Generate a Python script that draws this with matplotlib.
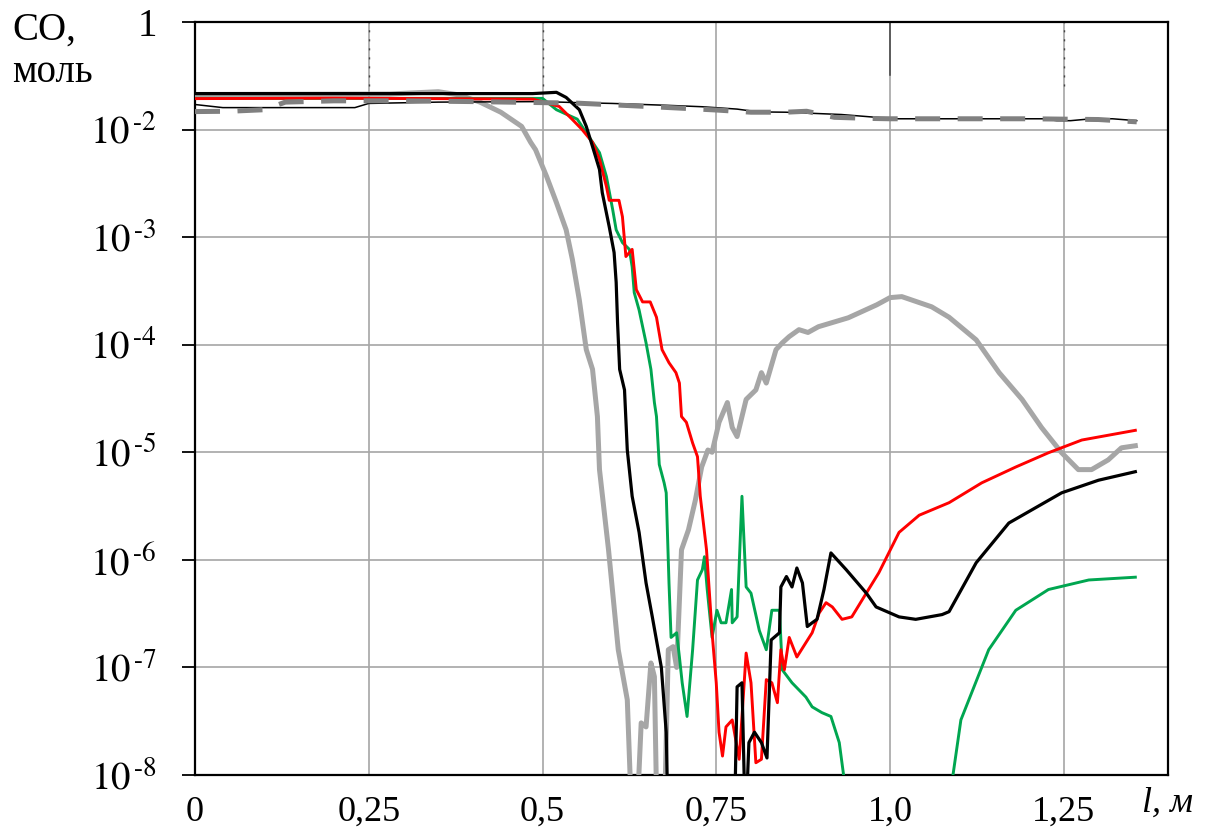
import matplotlib
matplotlib.use("Agg")
import matplotlib.pyplot as plt

plt.rcParams['font.family'] = ['Liberation Serif', 'DejaVu Serif']
plt.rcParams['mathtext.fontset'] = 'stix'

LOW = 3e-9  # below the visible axis

# thin black line (reference, nearly constant)
x_thin = [0.0, 0.04, 0.1, 0.2, 0.23, 0.25, 0.35, 0.5, 0.55, 0.6, 0.68, 0.73, 0.78, 0.81, 0.85,
          0.93, 0.98, 1.0, 1.1, 1.22, 1.24, 1.26, 1.29, 1.32, 1.355]
y_thin = [0.0171, 0.016, 0.016, 0.016, 0.016, 0.0175, 0.018, 0.0182, 0.0178, 0.0175, 0.0168,
          0.0163, 0.0155, 0.0146, 0.0145, 0.0138, 0.013, 0.0126, 0.0126, 0.0126, 0.0121, 0.0121,
          0.0126, 0.0126, 0.0121]

# dashed gray line
x_dash = [0.0, 0.05, 0.1, 0.13, 0.2, 0.3, 0.4, 0.5, 0.55, 0.6, 0.65, 0.7, 0.75, 0.8, 0.85,
          0.88, 0.92, 0.97, 1.0, 1.1, 1.2, 1.3, 1.355]
y_dash = [0.0147, 0.0148, 0.0153, 0.018, 0.0185, 0.0185, 0.0182, 0.0178, 0.0176, 0.017, 0.0164,
          0.0158, 0.0152, 0.0145, 0.0145, 0.0148, 0.013, 0.0127, 0.0126, 0.0126, 0.0126, 0.0124,
          0.0118]

# light gray thick curve
x_lg = [0.0, 0.28, 0.35, 0.38, 0.41, 0.44, 0.47, 0.483, 0.49, 0.506, 0.52, 0.534, 0.543, 0.553,
        0.563, 0.572, 0.579, 0.582, 0.595, 0.609, 0.622, 0.629, 0.635, 0.642, 0.649, 0.656,
        0.661, 0.665, 0.675, 0.681, 0.688, 0.693, 0.700, 0.710, 0.720, 0.729, 0.738, 0.744,
        0.754, 0.766, 0.773, 0.780, 0.793, 0.807, 0.815, 0.822, 0.836, 0.845, 0.855, 0.869,
        0.882, 0.897, 0.940, 0.981, 1.000, 1.017, 1.060, 1.085, 1.124, 1.157, 1.190, 1.218,
        1.247, 1.271, 1.290, 1.314, 1.333, 1.353]
y_lg = [0.0212, 0.0214, 0.0225, 0.021, 0.018, 0.0145, 0.0107, 7.6e-3, 6.5e-3, 3.65e-3, 2.1e-3,
        1.17e-3, 6.2e-4, 2.6e-4, 9.0e-5, 5.9e-5, 2.15e-5, 6.9e-6, 1.24e-6, 1.46e-7, 5.0e-8,
        LOW, LOW, 3.05e-8, 2.8e-8, 1.1e-7, 8.2e-8, LOW, LOW, 1.46e-7, 1.56e-7, 1.0e-7, 1.24e-6,
        1.9e-6, 3.6e-6, 7.3e-6, 1.05e-5, 1.0e-5, 1.9e-5, 2.9e-5, 1.7e-5, 1.4e-5, 3.1e-5,
        3.8e-5, 5.5e-5, 4.4e-5, 9.0e-5, 1.04e-4, 1.19e-4, 1.38e-4, 1.3e-4, 1.47e-4, 1.78e-4,
        2.35e-4, 2.74e-4, 2.8e-4, 2.25e-4, 1.8e-4, 1.11e-4, 5.5e-5, 3.1e-5, 1.7e-5, 9.9e-6,
        6.9e-6, 6.9e-6, 8.5e-6, 1.1e-5, 1.15e-5]

# green curve
x_gr = [0.0, 0.3, 0.5, 0.520, 0.55, 0.582, 0.592, 0.601, 0.606, 0.615, 0.625, 0.629, 0.632,
        0.639, 0.649, 0.656, 0.661, 0.664, 0.668, 0.675, 0.678, 0.682, 0.685, 0.693, 0.697,
        0.701, 0.708, 0.716, 0.723, 0.730, 0.733, 0.737, 0.744, 0.751, 0.757, 0.764, 0.772,
        0.773, 0.780, 0.787, 0.793, 0.800, 0.812, 0.822, 0.830, 0.841, 0.845, 0.859, 0.879,
        0.888, 0.902, 0.915, 0.927, 0.944, 1.079, 1.102, 1.142, 1.181, 1.228, 1.286, 1.353]
y_gr = [0.0195, 0.0195, 0.0195, 0.0153, 0.0125, 6.1e-3, 3.65e-3, 1.8e-3, 1.17e-3, 8.9e-4, 7.7e-4,
        5.3e-4, 3.05e-4, 2.1e-4, 1.04e-4, 5.9e-5, 2.9e-5, 2.15e-5, 7.7e-6, 5.2e-6, 4.2e-6,
        6.1e-7, 1.9e-7, 2.1e-7, 1.25e-7, 7.2e-8, 3.5e-8, 1.46e-7, 6.5e-7, 8.1e-7, 1.07e-6,
        5.3e-7, 1.9e-7, 3.4e-7, 2.6e-7, 2.6e-7, 5.3e-7, 2.6e-7, 2.95e-7, 3.9e-6, 5.6e-7, 4.9e-7,
        2.2e-7, 1.46e-7, 3.4e-7, 3.4e-7, 9.5e-8, 7.2e-8, 5.3e-8, 4.3e-8, 3.8e-8, 3.5e-8, 2.0e-8,
        LOW, LOW, 3.25e-8, 1.46e-7, 3.4e-7, 5.3e-7, 6.5e-7, 6.9e-7]

# red curve
x_red = [0.0, 0.2, 0.486, 0.524, 0.543, 0.557, 0.572, 0.582, 0.592, 0.596, 0.610, 0.615, 0.620,
         0.629, 0.635, 0.644, 0.655, 0.664, 0.672, 0.682, 0.692, 0.697, 0.700, 0.707, 0.716,
         0.723, 0.727, 0.736, 0.744, 0.750, 0.754, 0.759, 0.764, 0.773, 0.783, 0.793, 0.800,
         0.807, 0.815, 0.822, 0.830, 0.838, 0.843, 0.848, 0.855, 0.866, 0.879, 0.888, 0.898,
         0.908, 0.917, 0.931, 0.945, 0.960, 0.984, 1.013, 1.042, 1.085, 1.132, 1.181, 1.228,
         1.276, 1.353]
y_red = [0.0194, 0.0196, 0.0192, 0.0164, 0.0124, 0.01, 7.6e-3, 5.3e-3, 2.95e-3, 2.2e-3, 2.2e-3,
         1.55e-3, 6.6e-4, 7.7e-4, 3.25e-4, 2.5e-4, 2.5e-4, 1.8e-4, 9.0e-5, 6.8e-5, 5.5e-5,
         4.4e-5, 2.15e-5, 1.9e-5, 1.22e-5, 9.1e-6, 3.9e-6, 1.24e-6, 2.1e-7, 7.2e-8, 2.5e-8,
         1.5e-8, 2.8e-8, 3.25e-8, 1.4e-8, 1.36e-7, 7.2e-8, 1.3e-8, 1.4e-8, 7.7e-8, 7.2e-8,
         4.7e-8, 1.46e-7, 9.5e-8, 1.9e-7, 1.25e-7, 1.7e-7, 2.1e-7, 3.2e-7, 4.0e-7, 3.65e-7,
         2.8e-7, 2.95e-7, 4.25e-7, 7.6e-7, 1.8e-6, 2.6e-6, 3.4e-6, 5.2e-6, 7.3e-6, 9.9e-6,
         1.3e-5, 1.6e-5]

# black thick curve
x_bk = [0.0, 0.486, 0.520, 0.534, 0.553, 0.563, 0.572, 0.582, 0.586, 0.596, 0.603, 0.606,
        0.608, 0.611, 0.618, 0.622, 0.629, 0.639, 0.649, 0.658, 0.671, 0.678, 0.681, 0.776,
        0.780, 0.787, 0.792, 0.797, 0.805, 0.815, 0.823, 0.829, 0.841, 0.843, 0.851, 0.859,
        0.866, 0.874, 0.881, 0.888, 0.895, 0.905, 0.915, 0.937, 0.966, 0.980, 1.013, 1.037,
        1.075, 1.085, 1.124, 1.171, 1.247, 1.300, 1.353]
y_bk = [0.0216, 0.0216, 0.0222, 0.0199, 0.0153, 0.0107, 6.95e-3, 4.25e-3, 2.59e-3, 1.25e-3,
        7.2e-4, 3.8e-4, 1.6e-4, 5.9e-5, 3.8e-5, 1.05e-5, 3.9e-6, 1.8e-6, 6.1e-7, 2.95e-7,
        1.0e-7, 2.5e-8, LOW, LOW, 6.6e-8, 7.2e-8, LOW, 2.0e-8, 2.5e-8, 2.0e-8, 1.44e-8, 1.8e-7,
        2.1e-7, 5.6e-7, 7.0e-7, 5.6e-7, 8.4e-7, 6.1e-7, 2.4e-7, 2.6e-7, 2.8e-7, 5.3e-7,
        1.16e-6, 8.1e-7, 4.9e-7, 3.65e-7, 2.95e-7, 2.8e-7, 3.1e-7, 3.3e-7, 9.4e-7, 2.2e-6,
        4.2e-6, 5.5e-6, 6.6e-6]

xticks = [0, 0.25, 0.5, 0.75, 1.0, 1.25]
xtick_labels = ['0', '0,25', '0,5', '0,75', '1,0', '1,25']
yticks = [1e-8, 1e-7, 1e-6, 1e-5, 1e-4, 1e-3, 1e-2, 1e-1]
ytick_labels = [r'$10^{\,\text{-}8}$', r'$10^{\,\text{-}7}$', r'$10^{\,\text{-}6}$',
                r'$10^{\,\text{-}5}$', r'$10^{\,\text{-}4}$', r'$10^{\,\text{-}3}$',
                r'$10^{\,\text{-}2}$', '1']

fig = plt.figure(figsize=(12.11, 8.32), dpi=100)
ax = fig.add_axes([195 / 1211, 1 - 775 / 832, 973 / 1211, 753 / 832])

ax.plot(x_lg, y_lg, color='#a6a6a6', lw=3.6, zorder=3)
ax.plot(x_gr, y_gr, color='#00a650', lw=2.1, zorder=4)
ax.plot(x_red, y_red, color='#ff0000', lw=2.1, zorder=5)
ax.plot(x_bk, y_bk, color='black', lw=2.3, zorder=6)
ax.plot(x_thin, y_thin, color='black', lw=1.1, zorder=7)
ax.plot(x_dash, y_dash, color='#808080', lw=3.6, dashes=(5, 3.5), zorder=8)

ax.set_yscale('log')
ax.set_xlim(0, 1.4)
ax.set_ylim(1e-8, 1e-1)
ax.set_xticks(xticks)
ax.set_xticklabels(xtick_labels)
ax.set_yticks(yticks)
ax.set_yticklabels(ytick_labels)
ax.minorticks_off()
ax.tick_params(axis='x', length=0, pad=15, labelsize=26)
ax.tick_params(axis='y', length=9.5, width=1.3, direction='out', pad=18, labelsize=28)
ax.grid(True, color='#a6a6a6', lw=1.2)
ax.set_axisbelow(True)
for s in ax.spines.values():
    s.set_linewidth(1.6)
    s.set_color('black')

# faint dark bits on the gridlines near the top frame
for xv in [0.25, 0.5, 1.25]:
    ax.axvline(xv, ymin=0.915, ymax=1, color='#444444', lw=1.0, dashes=(1.5, 5), zorder=2)
ax.axvline(1.0, ymin=0.93, ymax=1, color='#444444', lw=1.1, zorder=2)

fig.text(12 / 1211, 1 - 30 / 832, 'CO,', fontsize=28, va='center', ha='left')
fig.text(12 / 1211, 1 - 72 / 832, 'моль', fontsize=28, va='center', ha='left')
fig.text(1168 / 1211, 1 - 803 / 832, 'l, м', fontsize=26, va='center', ha='center',
         style='italic')

fig.savefig('out.png', dpi=100)
